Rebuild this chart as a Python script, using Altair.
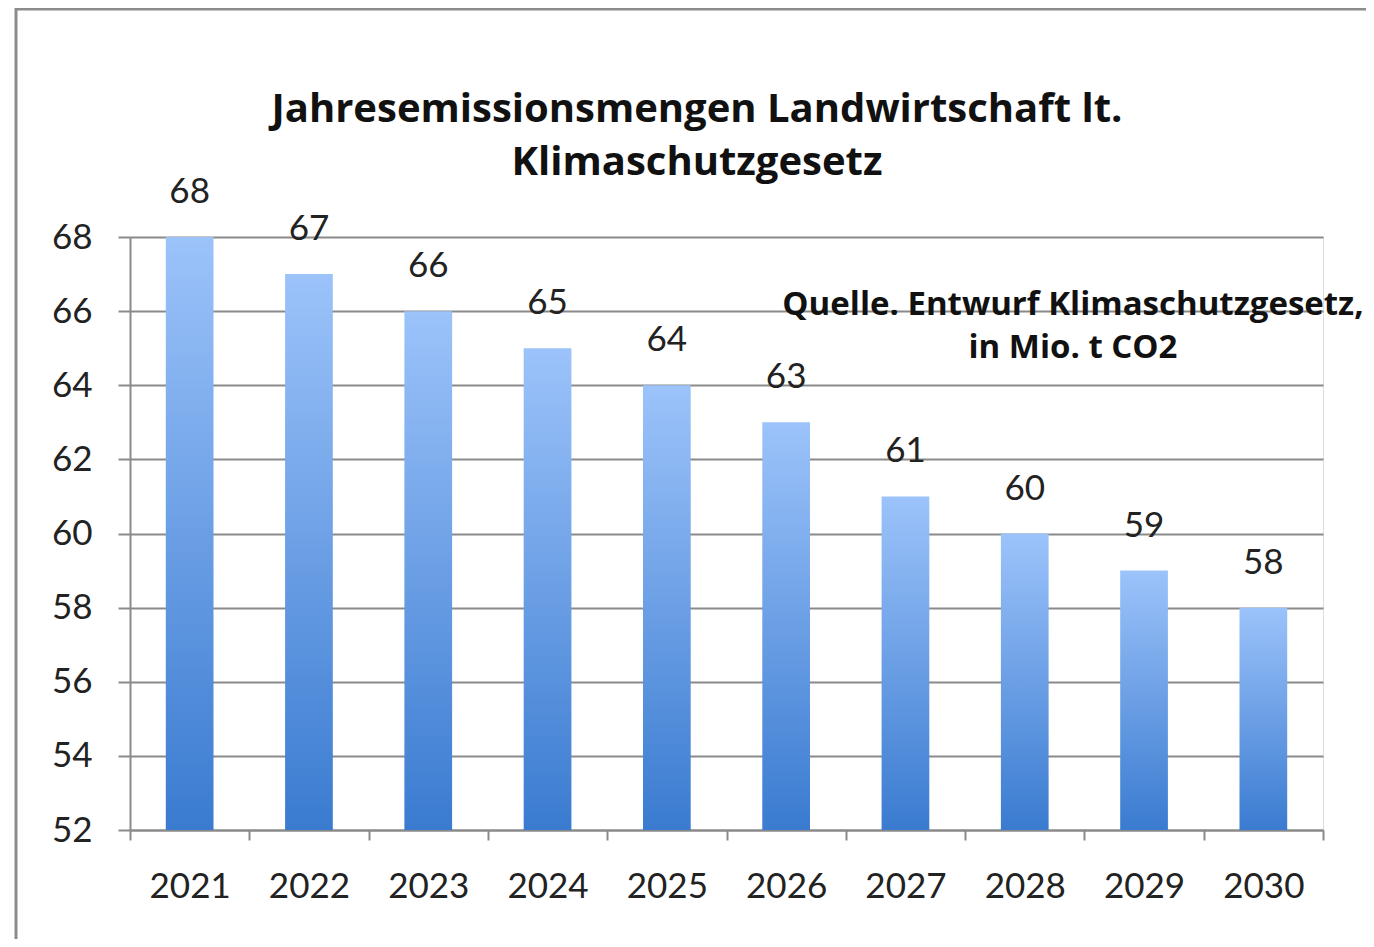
import altair as alt
import pandas as pd

years = ["2021", "2022", "2023", "2024", "2025", "2026", "2027", "2028", "2029", "2030"]
values = [68, 67, 66, 65, 64, 63, 61, 60, 59, 58]
y_ticks = [52, 54, 56, 58, 60, 62, 64, 66, 68]
y_min, y_max = 52, 68
title_lines = ["Jahresemissionsmengen Landwirtschaft lt.", "Klimaschutzgesetz"]
note_lines = ["Quelle. Entwurf Klimaschutzgesetz,", "in Mio. t CO2"]

df = pd.DataFrame({"year": years, "value": values})

FONT = "Lato"
BOLD_FONT = "Open Sans"
GRID = "#8a8a8a"
TEXT = "#222222"

x_enc = alt.X(
    "year:N",
    sort=years,
    scale=alt.Scale(paddingInner=0, paddingOuter=0),
    axis=alt.Axis(
        title=None, labelAngle=0, labelFont=FONT, labelFontSize=35, labelColor=TEXT,
        labelPadding=29, tickSize=10, tickWidth=2, tickColor=GRID, tickBand="extent",
        domainColor=GRID, domainWidth=2, grid=False,
    ),
)
y_enc = alt.Y(
    "value:Q",
    scale=alt.Scale(domain=[y_min, y_max], nice=False, zero=False),
    axis=alt.Axis(
        title=None, values=y_ticks, labelFont=FONT, labelFontSize=35, labelColor=TEXT,
        labelPadding=26, tickSize=12, tickWidth=2, tickColor=GRID,
        domainColor=GRID, domainWidth=2, grid=True, gridColor=GRID, gridWidth=2,
        gridOpacity=1,
    ),
)

grad = alt.Gradient(
    gradient="linear",
    stops=[alt.GradientStop(color="#9cc3fa", offset=0),
           alt.GradientStop(color="#3a7bd0", offset=1)],
    x1=0, x2=0, y1=0, y2=1,
)

bars = alt.Chart(df).mark_bar(color=grad, width=alt.RelativeBandSize(0.4)).encode(
    x=x_enc, y=y_enc, y2=alt.datum(y_min)
)

labels = alt.Chart(df).mark_text(
    font=FONT, fontSize=35, color=TEXT, baseline="alphabetic", dy=-34
).encode(x=alt.X("year:N", sort=years), y="value:Q", text="value:Q")


def txt(s, x, y, size):
    return alt.Chart(pd.DataFrame({"t": [s]})).mark_text(
        font=BOLD_FONT, fontSize=size, fontWeight="bold", color="#111111",
        align="center", baseline="alphabetic"
    ).encode(text="t:N", x=alt.value(x), y=alt.value(y))


title1 = txt(title_lines[0], 567, -115, 40)
title2 = txt(title_lines[1], 567, -62, 40)
note1 = txt(note_lines[0], 943, 78, 33)
note2 = txt(note_lines[1], 943, 121, 33)

frame_top = alt.Chart(pd.DataFrame({"a": [0]})).mark_rule(color="#8c8c8c", strokeWidth=3).encode(
    x=alt.value(-115), x2=alt.value(1240), y=alt.value(-228), y2=alt.value(-228)
)
frame_left = alt.Chart(pd.DataFrame({"a": [0]})).mark_rule(color="#8c8c8c", strokeWidth=3).encode(
    x=alt.value(-114), x2=alt.value(-114), y=alt.value(-229), y2=alt.value(720)
)

chart = alt.layer(bars, labels, title1, title2, note1, note2, frame_top, frame_left).properties(
    width=1193, height=593,
    padding={"left": 122, "top": 229, "right": 43, "bottom": 109},
    autosize=alt.AutoSizeParams(type="none"),
).configure_view(stroke=None).configure(background="white")

chart.save("out.html", embed_options={"renderer": "svg", "actions": False})
